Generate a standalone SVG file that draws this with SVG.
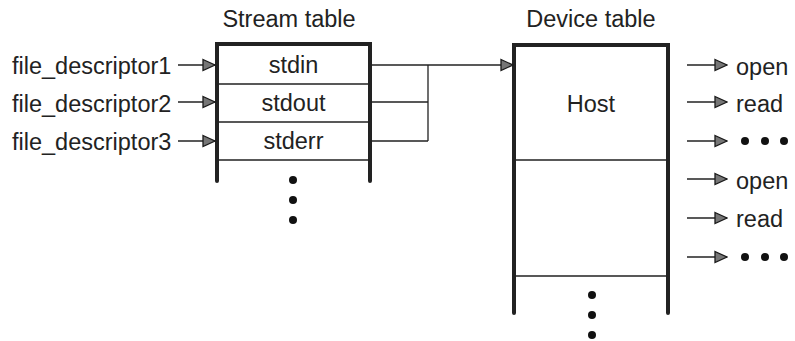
<svg xmlns="http://www.w3.org/2000/svg" width="795" height="341" viewBox="0 0 795 341">
<defs>
<marker id="ah" markerUnits="userSpaceOnUse" markerWidth="14" markerHeight="14" viewBox="0 0 14 14" refX="13" refY="7" orient="auto">
<path d="M1,1.5 L13,7 L1,12.5 Z" fill="#767676" stroke="#1a1a1a" stroke-width="1.3" stroke-linejoin="miter"/>
</marker>
<style>
text{font-family:"Liberation Sans",Arial,sans-serif;font-size:23.5px;fill:#222}
.c{text-anchor:middle}
.thick{stroke:#222;stroke-width:4;fill:none;stroke-linecap:round}
.thin{stroke:#222;stroke-width:1.3;fill:none}
.arr{stroke:#222;stroke-width:1.3;fill:none;marker-end:url(#ah)}
.dot{fill:#111}
</style>
</defs>
<rect width="795" height="341" fill="#fff"/>

<g id="stream-table">
<text class="c" x="289" y="27">Stream table</text>
<path class="thick" d="M217,181 V44 H370 V181"/>
<path class="thin" d="M217,84 H370 M217,122 H370 M217,160 H370"/>
<text class="c" x="293.5" y="73">stdin</text>
<text class="c" x="293.5" y="111">stdout</text>
<text class="c" x="293.5" y="149">stderr</text>
<circle class="dot" cx="293" cy="180" r="4"/>
<circle class="dot" cx="293" cy="200" r="4"/>
<circle class="dot" cx="293" cy="220" r="4"/>
</g>

<g id="descriptors">
<text x="12" y="74">file_descriptor1</text>
<text x="12" y="112">file_descriptor2</text>
<text x="12" y="150">file_descriptor3</text>
</g>

<g id="device-table">
<text class="c" x="591" y="27">Device table</text>
<path class="thick" d="M514,313 V45 H668 V313"/>
<path class="thin" d="M514,160 H668 M514,276 H668"/>
<text class="c" x="591" y="112">Host</text>
<circle class="dot" cx="592" cy="295" r="4"/>
<circle class="dot" cx="592" cy="315" r="4"/>
<circle class="dot" cx="592" cy="335" r="4"/>
</g>

<g id="functions">
<text x="736" y="75">open</text>
<text x="736" y="112">read</text>
<circle class="dot" cx="745" cy="141" r="4"/>
<circle class="dot" cx="765" cy="141" r="4"/>
<circle class="dot" cx="784" cy="141" r="4"/>
<text x="736" y="189">open</text>
<text x="736" y="227">read</text>
<circle class="dot" cx="745" cy="257" r="4"/>
<circle class="dot" cx="765" cy="257" r="4"/>
<circle class="dot" cx="784" cy="257" r="4"/>
</g>

<g id="connectors">
<path class="arr" d="M178,65 H215"/>
<path class="arr" d="M178,102 H215"/>
<path class="arr" d="M178,141 H215"/>
<path class="thin" d="M370,102 H428 M370,141 H428 M428,65 V141"/>
<path class="arr" d="M370,65 H513"/>
<path class="arr" d="M687,65 H727"/>
<path class="arr" d="M687,102 H727"/>
<path class="arr" d="M687,141 H727"/>
<path class="arr" d="M687,179 H727"/>
<path class="arr" d="M687,218 H727"/>
<path class="arr" d="M687,257 H727"/>
</g>
</svg>
